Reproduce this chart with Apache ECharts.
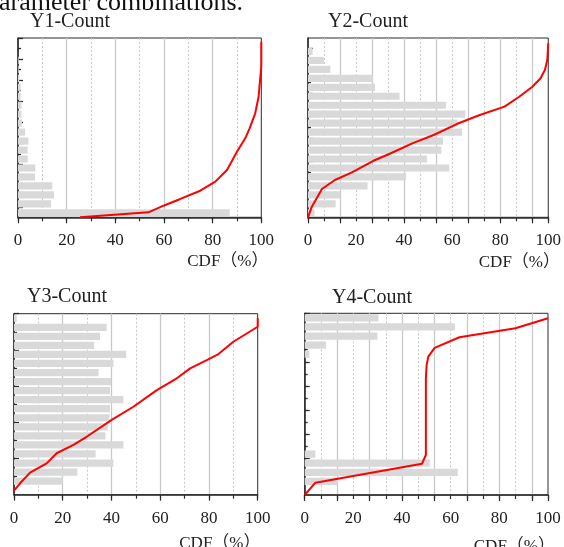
<!DOCTYPE html>
<html><head><meta charset="utf-8">
<script src="https://cdn.jsdelivr.net/npm/echarts@6/dist/echarts.min.js"></script>
<style>html,body{margin:0;padding:0;background:#fff}#c{width:564px;height:547px}</style>
</head><body><div id="c"></div>
<script>
// ---------- data ----------
const titles = ['Y1-Count', 'Y2-Count', 'Y3-Count', 'Y4-Count'];
const xTickLabels = [0, 20, 40, 60, 80, 100];
const xName = 'CDF（%）';
const headerText = 'arameter combinations.';

// histogram bar lengths, listed top -> bottom
const y1Bars = [0, 0, 0.3, 0.3, 0.5, 1.1, 1.1, 1.4, 1.4, 1.6, 2.9, 4.3, 4.0, 4.0, 7.1, 7.0, 14.1, 14.8, 13.6, 87];
const y2Bars = [0, 1.9, 6.6, 9.3, 27.1, 27.9, 38.1, 57.4, 65.5, 62.2, 64.1, 56.2, 55.5, 49.5, 58.8, 40.8, 24.8, 13.4, 11.5, 2.7];
const y3Bars = [1.1, 38.0, 35.3, 32.8, 46.0, 40.8, 34.7, 39.8, 39.4, 44.9, 39.4, 39.2, 38.5, 37.5, 44.9, 33.5, 40.8, 26.0, 20.0, 0];
const y4Bars = [30.3, 61.8, 29.9, 8.8, 1.9, 0, 0, 0, 0, 0, 0, 0, 0, 0, 0, 4.4, 51.4, 62.9, 13.6, 0];

// CDF curves: [cdf %, value on the variable axis]
const y1Cdf = [[25.5, 0], [53.6, 0.47], [59.8, 1.10], [66.7, 1.74], [74.9, 2.52], [81.1, 3.38], [85.9, 4.48], [90.0, 6.22], [93.4, 7.49], [95.2, 8.44], [97.5, 9.86], [98.9, 11.43], [99.3, 12.54], [100, 14.28], [100, 16.65]];
const y2Cdf = [[0, 0], [1.6, 0.94], [5.8, 2.51], [11.2, 3.31], [18.1, 3.96], [27, 4.99], [34.5, 5.68], [43.4, 6.56], [52.3, 7.30], [61.9, 8.27], [71.5, 9.07], [81.8, 9.81], [87.9, 10.69], [93.4, 11.58], [96.8, 12.33], [98.6, 13.06], [99.6, 13.95], [100, 15.43]];
const y3Cdf = [[0, 0.22], [2.5, 0.63], [6.6, 1.22], [13.4, 1.73], [17.5, 2.29], [24.4, 2.75], [29.8, 3.20], [40.1, 4.13], [49, 4.86], [58.6, 5.78], [66.8, 6.43], [72.3, 6.98], [79.1, 7.44], [83.9, 7.77], [90, 8.45], [100, 9.28], [100, 9.75]];
const y4Cdf = [[0, 0], [4.4, 1.02], [48.2, 2.58], [49.8, 3.30], [49.8, 9.6], [50.1, 10.7], [50.8, 11.42], [53.4, 12.15], [63.6, 13.02], [86.6, 13.76], [100, 14.59]];

// ---------- layout ----------
const panels = [
  { title: titles[0], bars: y1Bars, cdf: y1Cdf, left: 18, top: 38, width: 243.3, height: 179.3, xStep: 10, yMax: 17, majorOdd: true,
    titleX: 30, titleY: 21.7, nameX: 268.5, nameY: 262 },
  { title: titles[1], bars: y2Bars, cdf: y2Cdf, left: 308, top: 38, width: 243.3, height: 179.3, xStep: 100 / 15, yMax: 15.9, majorOdd: true,
    titleX: 328, titleY: 21.7, nameX: 560, nameY: 263 },
  { title: titles[2], bars: y3Bars, cdf: y3Cdf, left: 14, top: 313.7, width: 243.7, height: 181, xStep: 10, yMax: 10, majorOdd: false,
    titleX: 27, titleY: 296.5, nameX: 260.5, nameY: 543.5 },
  { title: titles[3], bars: y4Bars, cdf: y4Cdf, left: 304.7, top: 313.3, width: 243.3, height: 181.7, xStep: 100 / 15, yMax: 15, majorOdd: true,
    titleX: 332, titleY: 297.5, nameX: 555, nameY: 547 }
];

const AX = '#2b2b2b';
const GRIDC = '#c9c9c9';
const grid = [], xAxis = [], yAxis = [], series = [], graphic = [];

graphic.push({ type: 'text', x: -1, y: 3.5, style: { text: headerText, font: '26px "Liberation Serif"', fill: '#111', verticalAlign: 'middle' } });

panels.forEach((p, i) => {
  grid.push({ left: p.left, top: p.top, width: p.width, height: p.height, show: true, borderColor: AX, borderWidth: 1, backgroundColor: 'transparent' });
  // x axis with labels + axis line
  xAxis.push({ gridIndex: i, type: 'value', position: 'bottom', min: 0, max: 100, interval: 20,
    axisLine: { show: true, lineStyle: { color: AX, width: 1.5 } },
    axisTick: { show: false }, splitLine: { show: false },
    axisLabel: { show: true, margin: 15, color: '#222', fontFamily: 'Liberation Serif', fontSize: 17,
      customValues: xTickLabels } });
  // minor grid (dotted) + short ticks
  xAxis.push({ gridIndex: i, type: 'value', position: 'bottom', min: 0, max: 100, interval: p.xStep,
    axisLine: { show: false }, axisLabel: { show: false },
    axisTick: { show: true, length: 4, lineStyle: { color: AX, width: 1.2 } },
    splitLine: { show: true, showMinLine: false, showMaxLine: false, lineStyle: { color: GRIDC, type: [2, 2], width: 1 } } });
  // major grid (solid) + long ticks
  xAxis.push({ gridIndex: i, type: 'value', position: 'bottom', min: 0, max: 100, interval: p.xStep * 2,
    axisLine: { show: false }, axisLabel: { show: false },
    axisTick: { show: true, length: 6, lineStyle: { color: AX, width: 1.2 } },
    splitLine: { show: true, showMinLine: false, showMaxLine: false, lineStyle: { color: GRIDC, width: 1.3 } } });

  const major = [], minor = [];
  for (let v = 1; v <= p.yMax + 1e-9; v++) {
    const isMajor = p.majorOdd ? v % 2 === 1 : v % 2 === 0;
    (isMajor ? major : minor).push(v);
  }
  // category axis for bars
  yAxis.push({ gridIndex: i, type: 'category', position: 'left', inverse: true,
    data: p.bars.map((_, k) => 'b' + k), boundaryGap: true,
    axisLine: { show: false }, axisTick: { show: false }, axisLabel: { show: false }, splitLine: { show: false } });
  // value axis for the CDF line (major ticks, axis line)
  yAxis.push({ gridIndex: i, type: 'value', position: 'left', min: 0, max: p.yMax,
    axisLine: { show: true, lineStyle: { color: AX, width: 1.5 } },
    axisTick: { show: true, inside: true, length: 5, customValues: major, lineStyle: { color: AX, width: 1.3 } },
    axisLabel: { show: false }, splitLine: { show: false } });
  // minor ticks
  yAxis.push({ gridIndex: i, type: 'value', position: 'left', min: 0, max: p.yMax,
    axisLine: { show: false },
    axisTick: { show: true, inside: true, length: 3, customValues: minor, lineStyle: { color: AX, width: 1.3 } },
    axisLabel: { show: false }, splitLine: { show: false } });

  series.push({ type: 'bar', xAxisIndex: 3 * i, yAxisIndex: 3 * i, data: p.bars,
    barCategoryGap: '20%', itemStyle: { color: '#d9d9d9' }, silent: true, animation: false });
  series.push({ type: 'line', xAxisIndex: 3 * i, yAxisIndex: 3 * i + 1, data: p.cdf,
    showSymbol: false, symbol: 'none', lineStyle: { color: '#ff0000', width: 2 }, z: 5, animation: false });

  graphic.push({ type: 'text', x: p.titleX, y: p.titleY, style: { text: p.title, font: '20px "Liberation Serif"', fill: '#222', verticalAlign: 'middle' } });
  graphic.push({ type: 'text', x: p.nameX, y: p.nameY, style: { text: xName, font: '17px "Liberation Serif", "Noto Sans CJK SC"', fill: '#222', align: 'right', verticalAlign: 'middle' } });
});

const chart = echarts.init(document.getElementById('c'), null, { renderer: 'canvas' });
chart.setOption({ animation: false, backgroundColor: '#fff', grid, xAxis, yAxis, series, graphic });
</script>
</body></html>
